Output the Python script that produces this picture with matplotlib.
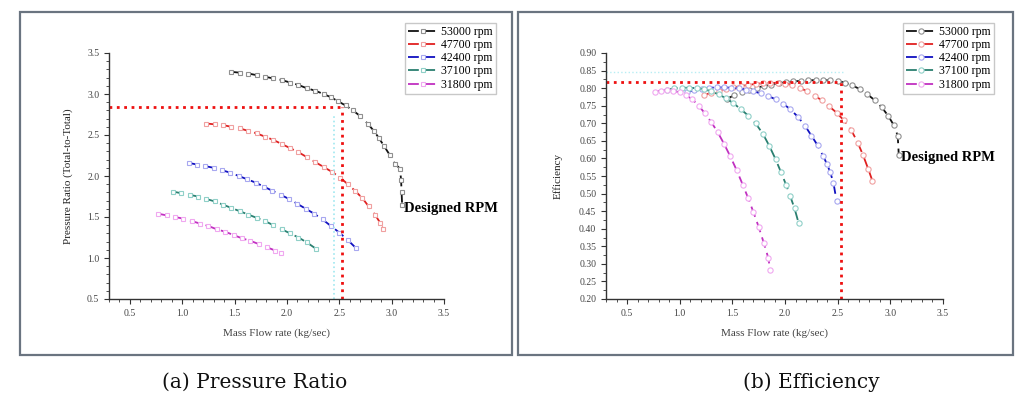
import matplotlib
matplotlib.use("Agg")
import matplotlib.pyplot as plt
from matplotlib.patches import Rectangle
from matplotlib.ticker import MultipleLocator, AutoMinorLocator

plt.rcParams['font.family'] = ['Liberation Serif', 'DejaVu Serif']

labels = ["53000 rpm", "47700 rpm", "42400 rpm", "37100 rpm", "31800 rpm"]
line_colors = ["#111111", "#e02020", "#1010c0", "#2a7f70", "#c030c0"]
marker_colors = ["#909090", "#f0a0a0", "#a8a8f0", "#90d0c8", "#f0a8f0"]

# ---- Pressure ratio data (mass flow kg/s, PR) ----
pr_x_53000 = [1.47, 1.55, 1.63, 1.71, 1.79, 1.87, 1.95, 2.03, 2.11, 2.19, 2.27, 2.35, 2.42,
              2.49, 2.56, 2.63, 2.70, 2.77, 2.83, 2.88, 2.93, 2.98, 3.03, 3.08, 3.09, 3.095, 3.10]
pr_y_53000 = [3.27, 3.26, 3.25, 3.23, 3.21, 3.19, 3.17, 3.14, 3.11, 3.07, 3.04, 3.00, 2.96,
              2.91, 2.86, 2.80, 2.73, 2.64, 2.55, 2.46, 2.36, 2.26, 2.15, 2.09, 1.95, 1.80, 1.65]
pr_x_47700 = [1.23, 1.31, 1.39, 1.47, 1.55, 1.63, 1.71, 1.79, 1.87, 1.95, 2.03, 2.11, 2.19,
              2.27, 2.35, 2.43, 2.51, 2.58, 2.65, 2.72, 2.78, 2.84, 2.89, 2.92]
pr_y_47700 = [2.64, 2.63, 2.62, 2.60, 2.58, 2.55, 2.52, 2.48, 2.44, 2.39, 2.34, 2.29, 2.23,
              2.17, 2.11, 2.05, 1.98, 1.90, 1.82, 1.73, 1.63, 1.53, 1.43, 1.35]
pr_x_42400 = [1.06, 1.14, 1.22, 1.30, 1.38, 1.46, 1.54, 1.62, 1.70, 1.78, 1.86, 1.94, 2.02,
              2.10, 2.18, 2.26, 2.34, 2.42, 2.50, 2.58, 2.66]
pr_y_42400 = [2.16, 2.14, 2.12, 2.10, 2.07, 2.04, 2.00, 1.96, 1.92, 1.87, 1.82, 1.77, 1.72,
              1.66, 1.60, 1.54, 1.47, 1.39, 1.31, 1.22, 1.12]
pr_x_37100 = [0.91, 0.99, 1.07, 1.15, 1.23, 1.31, 1.39, 1.47, 1.55, 1.63, 1.71, 1.79, 1.87,
              1.95, 2.03, 2.11, 2.19, 2.28]
pr_y_37100 = [1.81, 1.79, 1.77, 1.75, 1.72, 1.69, 1.65, 1.61, 1.57, 1.53, 1.49, 1.45, 1.40,
              1.35, 1.30, 1.25, 1.19, 1.11]
pr_x_31800 = [0.77, 0.85, 0.93, 1.01, 1.09, 1.17, 1.25, 1.33, 1.41, 1.49, 1.57, 1.65, 1.73,
              1.81, 1.89, 1.94]
pr_y_31800 = [1.54, 1.52, 1.50, 1.48, 1.45, 1.42, 1.39, 1.35, 1.32, 1.28, 1.24, 1.21, 1.17,
              1.13, 1.09, 1.06]

# ---- Efficiency data (mass flow kg/s, efficiency) ----
ef_x_53000 = [1.45, 1.52, 1.59, 1.66, 1.73, 1.80, 1.87, 1.94, 2.01, 2.08, 2.15, 2.22, 2.29,
              2.36, 2.43, 2.50, 2.57, 2.64, 2.71, 2.78, 2.85, 2.92, 2.98, 3.03, 3.07, 3.08]
ef_y_53000 = [0.770, 0.780, 0.788, 0.795, 0.801, 0.806, 0.810, 0.814, 0.817, 0.819, 0.821,
              0.822, 0.823, 0.823, 0.822, 0.820, 0.816, 0.808, 0.797, 0.783, 0.766, 0.745,
              0.721, 0.696, 0.665, 0.610]
ef_x_47700 = [1.23, 1.30, 1.37, 1.44, 1.51, 1.58, 1.65, 1.72, 1.79, 1.86, 1.93, 2.00, 2.07,
              2.14, 2.21, 2.28, 2.35, 2.42, 2.49, 2.56, 2.63, 2.69, 2.74, 2.79, 2.83]
ef_y_47700 = [0.780, 0.787, 0.793, 0.798, 0.802, 0.806, 0.809, 0.812, 0.814, 0.815, 0.815,
              0.813, 0.809, 0.801, 0.791, 0.779, 0.765, 0.748, 0.730, 0.708, 0.680, 0.645,
              0.610, 0.570, 0.536]
ef_x_42400 = [1.07, 1.14, 1.21, 1.28, 1.35, 1.42, 1.49, 1.56, 1.63, 1.70, 1.77, 1.84, 1.91,
              1.98, 2.05, 2.12, 2.19, 2.25, 2.31, 2.36, 2.40, 2.43, 2.46, 2.49]
ef_y_42400 = [0.789, 0.794, 0.798, 0.801, 0.802, 0.802, 0.801, 0.799, 0.796, 0.791, 0.785,
              0.778, 0.768, 0.756, 0.740, 0.719, 0.693, 0.665, 0.637, 0.608, 0.583, 0.560,
              0.530, 0.478]
ef_x_37100 = [0.88, 0.95, 1.02, 1.09, 1.16, 1.23, 1.30, 1.37, 1.44, 1.51, 1.58, 1.65, 1.72,
              1.79, 1.85, 1.91, 1.96, 2.01, 2.05, 2.09, 2.13]
ef_y_37100 = [0.796, 0.799, 0.801, 0.801, 0.800, 0.797, 0.791, 0.782, 0.771, 0.757, 0.740,
              0.722, 0.700, 0.670, 0.636, 0.598, 0.562, 0.525, 0.492, 0.458, 0.415]
ef_x_31800 = [0.77, 0.82, 0.88, 0.94, 1.00, 1.06, 1.12, 1.18, 1.24, 1.30, 1.36, 1.42, 1.48,
              1.54, 1.60, 1.65, 1.70, 1.75, 1.80, 1.84, 1.86]
ef_y_31800 = [0.789, 0.793, 0.794, 0.792, 0.788, 0.780, 0.768, 0.750, 0.728, 0.703, 0.675,
              0.642, 0.606, 0.567, 0.524, 0.487, 0.447, 0.405, 0.358, 0.318, 0.282]

pr_series = [(pr_x_53000, pr_y_53000), (pr_x_47700, pr_y_47700), (pr_x_42400, pr_y_42400),
             (pr_x_37100, pr_y_37100), (pr_x_31800, pr_y_31800)]
ef_series = [(ef_x_53000, ef_y_53000), (ef_x_47700, ef_y_47700), (ef_x_42400, ef_y_42400),
             (ef_x_37100, ef_y_37100), (ef_x_31800, ef_y_31800)]

design_flow_pr, design_pr = 2.525, 2.84
design_flow_ef, design_ef = 2.536, 0.817

fig = plt.figure(figsize=(10.28, 4.03), dpi=100)
W, H = 1028, 403

def fx(px):
    return px / W

def fy(py):
    return 1 - py / H

# panel frames
for (x0, x1) in [(20, 512), (518, 1013)]:
    fig.patches.append(Rectangle((fx(x0), fy(355)), fx(x1) - fx(x0), fy(12) - fy(355),
                                 transform=fig.transFigure, fill=False,
                                 edgecolor="#6a7480", linewidth=1.6))

ax1 = fig.add_axes([fx(109), fy(299), fx(444) - fx(109), fy(53) - fy(299)])
ax2 = fig.add_axes([fx(606), fy(299), fx(943) - fx(606), fy(53) - fy(299)])

def style(ax):
    for s in ["top", "right"]:
        ax.spines[s].set_visible(False)
    for s in ["left", "bottom"]:
        ax.spines[s].set_color("#333333")
        ax.spines[s].set_linewidth(1.0)
    ax.tick_params(which="major", length=3.5, width=0.8, labelsize=7, colors="#333333",
                   direction="out")
    ax.tick_params(which="minor", length=2, width=0.6, colors="#333333", direction="out")
    ax.xaxis.set_minor_locator(AutoMinorLocator(5))
    ax.yaxis.set_minor_locator(AutoMinorLocator(5))
    for t in ax.get_xticklabels() + ax.get_yticklabels():
        t.set_color("#444444")

# ---- Pressure ratio ----
for (xs, ys), lab, lc, mc in zip(pr_series, labels, line_colors, marker_colors):
    ax1.plot(xs, ys, linestyle=(0, (6, 3)), color=lc, linewidth=1.3, marker="s",
             markersize=3.4, markerfacecolor="white", markeredgecolor=mc,
             markeredgewidth=0.8, label=lab)
ax1.plot([0.3, design_flow_pr], [design_pr, design_pr], linestyle=":", color="#ee1111",
         linewidth=2.0)
ax1.plot([design_flow_pr, design_flow_pr], [0.5, design_pr], linestyle=":", color="#ee1111",
         linewidth=2.0)
ax1.plot([2.45, 2.45], [0.5, 2.75], linestyle=":", color="#a0e8f0", linewidth=1.2)
ax1.set_xlim(0.3, 3.5)
ax1.set_ylim(0.5, 3.5)
ax1.xaxis.set_major_locator(MultipleLocator(0.5))
ax1.yaxis.set_major_locator(MultipleLocator(0.5))
ax1.set_xticks([0.5, 1.0, 1.5, 2.0, 2.5, 3.0, 3.5])
style(ax1)
ax1.set_xlabel("Mass Flow rate (kg/sec)", fontsize=8, color="#444444", labelpad=8)
ax1.set_ylabel("Pressure Ratio (Total-to-Total)", fontsize=8, color="#222222", labelpad=10)
ax1.text(3.12, 1.6, "Designed RPM", fontsize=10.5, fontweight="bold", ha="left",
         va="center", clip_on=False)
leg1 = ax1.legend(loc="upper left", bbox_to_anchor=(fx(405), fy(23)),
                  bbox_transform=fig.transFigure, fontsize=8.5, frameon=True,
                  fancybox=False, edgecolor="#bbbbbb", handlelength=2.6,
                  handletextpad=0.2, borderpad=0.25, labelspacing=0.1, borderaxespad=0)
leg1.get_frame().set_linewidth(1.0)

# ---- Efficiency ----
for (xs, ys), lab, lc, mc in zip(ef_series, labels, line_colors, marker_colors):
    ax2.plot(xs, ys, linestyle=(0, (6, 3)), color=lc, linewidth=1.3, marker="o",
             markersize=3.8, markerfacecolor="white", markeredgecolor=mc,
             markeredgewidth=0.8, label=lab)
ax2.plot([0.3, 2.55], [0.846, 0.846], linestyle=":", color="#b8eef4", linewidth=1.0)
ax2.plot([0.3, design_flow_ef], [design_ef, design_ef], linestyle=":", color="#ee1111",
         linewidth=2.0)
ax2.plot([design_flow_ef, design_flow_ef], [0.2, design_ef], linestyle=":", color="#ee1111",
         linewidth=2.0)
ax2.set_xlim(0.3, 3.5)
ax2.set_ylim(0.2, 0.9)
ax2.set_xticks([0.5, 1.0, 1.5, 2.0, 2.5, 3.0, 3.5])
ax2.set_yticks([0.20, 0.25, 0.30, 0.35, 0.40, 0.45, 0.50, 0.55, 0.60, 0.65, 0.70, 0.75,
                0.80, 0.85, 0.90])
ax2.set_yticklabels([f"{v:.2f}" for v in ax2.get_yticks()])
style(ax2)
ax2.yaxis.set_minor_locator(AutoMinorLocator(2))
ax2.set_xlabel("Mass Flow rate (kg/sec)", fontsize=8, color="#444444", labelpad=8)
ax2.set_ylabel("Efficiency", fontsize=8, color="#222222", labelpad=12)
ax2.text(3.10, 0.602, "Designed RPM", fontsize=10.5, fontweight="bold", ha="left",
         va="center", clip_on=False)
leg2 = ax2.legend(loc="upper left", bbox_to_anchor=(fx(903), fy(23)),
                  bbox_transform=fig.transFigure, fontsize=8.5, frameon=True,
                  fancybox=False, edgecolor="#bbbbbb", handlelength=2.6,
                  handletextpad=0.2, borderpad=0.25, labelspacing=0.1, borderaxespad=0)
leg2.get_frame().set_linewidth(1.0)

# captions
fig.text(fx(255), fy(382), "(a) Pressure Ratio", fontsize=14.5, ha="center", va="center",
         family=["DejaVu Serif"], color="#111111")
fig.text(fx(811), fy(382), "(b) Efficiency", fontsize=14.5, ha="center", va="center",
         family=["DejaVu Serif"], color="#111111")

fig.savefig("out.png", dpi=100)
